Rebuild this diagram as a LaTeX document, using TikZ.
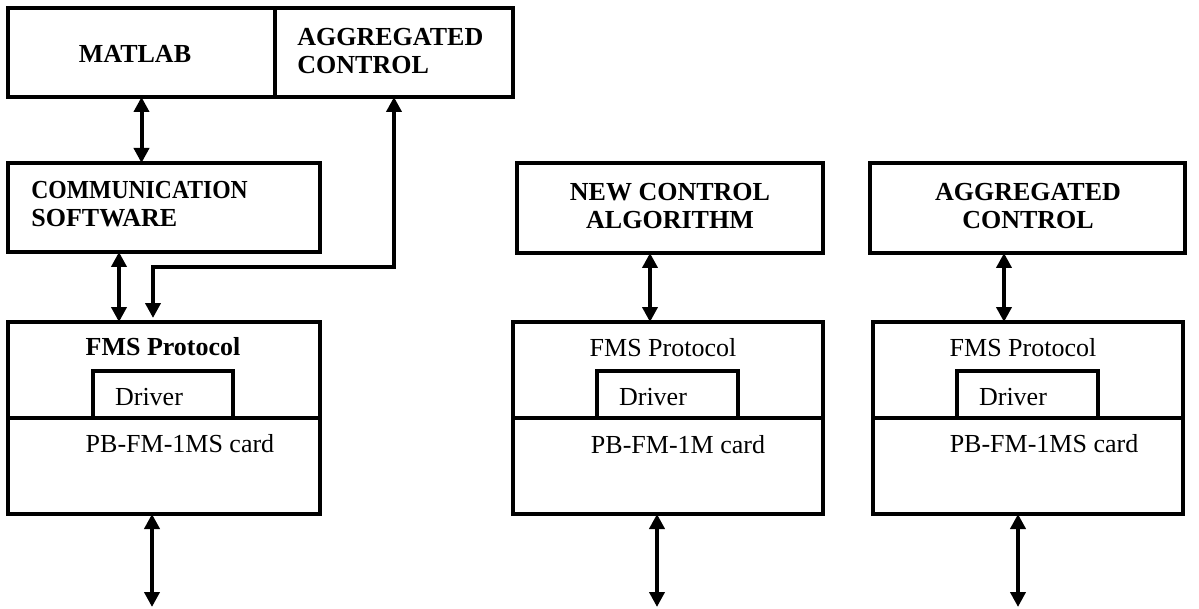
\documentclass[tikz,border=0pt]{standalone}
\usepackage{fontspec}
\setmainfont{Liberation Serif}
\usetikzlibrary{arrows.meta,calc}
\begin{document}
\begin{tikzpicture}[x=0.5pt,y=-0.5pt,
  box/.style={draw, line width=2pt, rectangle, inner sep=0pt, outer sep=0pt},
  lbl/.style={font=\fontsize{13}{14}\selectfont, inner sep=0pt, align=center},
  blbl/.style={font=\fontsize{13}{14}\selectfont\bfseries, inner sep=0pt, align=center},
  link/.style={line width=2pt,
    {Triangle[length=7.5pt,width=7.5pt]}-{Triangle[length=7.5pt,width=7.5pt]}}]
\useasboundingbox (0,0) rectangle (1199,609);

% ---- top host: MATLAB + aggregated control ----
\node[box, minimum width=133.5pt, minimum height=44.5pt] (matlab) at (141.5,52.5) {};
\node[box, minimum width=119pt, minimum height=44.5pt] (aggtop) at (394,52.5) {};
\node[blbl] (matlabtxt) at (135,54) {MATLAB};
\node[blbl, anchor=west, align=left] (aggtoptxt) at (297,51) {AGGREGATED\\CONTROL};

% ---- upper boxes of the three stations ----
\node[box, minimum width=156pt, minimum height=44.5pt] (comm) at (164,207.5) {};
\node[blbl, anchor=west, align=left] (commtxt) at (31,204)
  {\scalebox{0.91}[1]{COMMUNICATION}\\SOFTWARE};
\node[box, minimum width=153pt, minimum height=45pt] (ncalg) at (670,208) {};
\node[blbl] (ncalgtxt) at (670,206) {NEW CONTROL\\ALGORITHM};
\node[box, minimum width=157.5pt, minimum height=45pt] (aggr) at (1027.5,208) {};
\node[blbl] (aggrtxt) at (1028,206) {AGGREGATED\\CONTROL};

% ---- protocol / card stacks ----
\node[box, minimum width=156pt, minimum height=96pt] (fms1) at (164,418) {};
\node[box, minimum width=155pt, minimum height=96pt] (fms2) at (668,418) {};
\node[box, minimum width=155pt, minimum height=96pt] (fms3) at (1028,418) {};
\draw[line width=2pt] (fms1.west) -- (fms1.east);
\draw[line width=2pt] (fms2.west) -- (fms2.east);
\draw[line width=2pt] (fms3.west) -- (fms3.east);

\node[box, minimum width=70pt, minimum height=23.5pt] (drv1) at (163,394.5) {};
\node[box, minimum width=70.5pt, minimum height=23.5pt] (drv2) at (667.5,394.5) {};
\node[box, minimum width=70.5pt, minimum height=23.5pt] (drv3) at (1027.5,394.5) {};

\node[blbl] (fmstxt1) at (163,347) {FMS Protocol};
\node[lbl] (fmstxt2) at (663,348) {FMS Protocol};
\node[lbl] (fmstxt3) at (1023,348) {FMS Protocol};
\node[lbl] (drvtxt1) at (149,397) {Driver};
\node[lbl] (drvtxt2) at (653,397) {Driver};
\node[lbl] (drvtxt3) at (1013,397) {Driver};
\node[lbl] (card1) at (180,444) {PB-FM-1MS card};
\node[lbl] (card2) at (678,445) {PB-FM-1M card};
\node[lbl] (card3) at (1044,444) {PB-FM-1MS card};

% ---- connectors ----
\draw[link] (matlab.south) -- (matlab.south |- comm.north);
\draw[link] (aggtop.south) -- ++(0,170) -| ($(fms1.north)+(-11,-4)$);
\draw[link] ($(comm.south)+(-45,0)$) coordinate (t1) -- (t1 |- fms1.north);
\draw[link] ($(ncalg.south)+(-20,0)$) coordinate (t2) -- (t2 |- fms2.north);
\draw[link] ($(aggr.south)+(-23.5,0)$) coordinate (t3) -- (t3 |- fms3.north);

\draw[link] ($(fms1.south)+(-12,0)$) coordinate (b1) -- ++(0,93) coordinate (e1);
\draw[link] ($(fms2.south)+(-11,0)$) coordinate (b2) -- ++(0,93) coordinate (e2);
\draw[link] ($(fms3.south)+(-10,0)$) coordinate (b3) -- ++(0,93) coordinate (e3);
\end{tikzpicture}
\end{document}
